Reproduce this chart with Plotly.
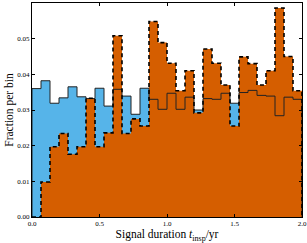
import numpy as np
import plotly.graph_objects as go

# Histogram data (fraction per bin), 30 bins over 0..2 yr
x_min, x_max, n_bins = 0.0, 2.0, 30
blue_vals = [0.0360, 0.0382, 0.0319, 0.0334, 0.0365, 0.0337, 0.0332, 0.0361, 0.0311, 0.0358,
             0.0339, 0.0288, 0.0361, 0.0330, 0.0302, 0.0347, 0.0302, 0.0336, 0.0300, 0.0332,
             0.0330, 0.0347, 0.0319, 0.0349, 0.0355, 0.0341, 0.0339, 0.0284, 0.0336, 0.0330]
orange_vals = [0.0000, 0.0098, 0.0197, 0.0234, 0.0176, 0.0197, 0.0333, 0.0197, 0.0236, 0.0508,
               0.0234, 0.0275, 0.0255, 0.0548, 0.0489, 0.0431, 0.0354, 0.0410, 0.0292, 0.0471,
               0.0431, 0.0370, 0.0255, 0.0449, 0.0430, 0.0370, 0.0410, 0.0586, 0.0450, 0.0354]
y_ticks = [0.00, 0.01, 0.02, 0.03, 0.04, 0.05, 0.06]
x_ticks = [0.0, 0.5, 1.0, 1.5, 2.0]

edges = np.linspace(x_min, x_max, n_bins + 1)


def step_xy(vals):
    xs = [edges[0]] + list(edges) + [edges[-1]]
    ys = [0.0] + list(vals) + [vals[-1], 0.0]
    return xs, ys


BLUE = "#56B4E9"
ORANGE = "#D55E00"
FONT = "Liberation Serif"

bx, by = step_xy(blue_vals)
ox, oy = step_xy(orange_vals)

fig = go.Figure()
fig.add_trace(go.Scatter(x=bx, y=by, mode="lines", line=dict(shape="hv", width=0, color=BLUE),
                         fill="tozeroy", fillcolor=BLUE, hoverinfo="skip", showlegend=False))
fig.add_trace(go.Scatter(x=ox, y=oy, mode="lines", line=dict(shape="hv", width=0, color=ORANGE),
                         fill="tozeroy", fillcolor=ORANGE, hoverinfo="skip", showlegend=False))
fig.add_trace(go.Scatter(x=bx, y=by, mode="lines", line=dict(shape="hv", width=1, color="#222222"),
                         hoverinfo="skip", showlegend=False))
fig.add_trace(go.Scatter(x=ox, y=oy, mode="lines",
                         line=dict(shape="hv", width=1.6, color="black", dash="4px,3px"),
                         hoverinfo="skip", showlegend=False))

fig.update_layout(
    width=307, height=243,
    margin=dict(l=32, r=5, t=3, b=26),
    paper_bgcolor="white", plot_bgcolor="white",
    font=dict(family=FONT, color="black", size=7),
)
fig.update_xaxes(range=[x_min, x_max], tickvals=x_ticks, ticktext=[f"{v:.1f}" for v in x_ticks],
                 ticks="inside", ticklen=3, tickcolor="black", showline=True, linecolor="black",
                 linewidth=1, mirror="ticks", showgrid=False, zeroline=False, automargin=False,
                 tickfont=dict(size=7, family=FONT),
                 title=dict(text="Signal duration <i>t</i><sub>insp</sub>/yr",
                            font=dict(size=11.5, family=FONT), standoff=1))
fig.update_yaxes(range=[0, 0.06], tickvals=y_ticks, ticktext=[f"{v:.2f}" for v in y_ticks],
                 ticks="inside", ticklen=3, tickcolor="black", showline=True, linecolor="black",
                 linewidth=1, mirror="ticks", showgrid=False, zeroline=False, automargin=False,
                 tickfont=dict(size=7, family=FONT),
                 title=dict(text="Fraction per bin", font=dict(size=11.5, family=FONT), standoff=1))

fig.write_html("out.html", config={"displayModeBar": False},
               post_script="document.body.style.margin='0';document.body.style.overflow='hidden';")
